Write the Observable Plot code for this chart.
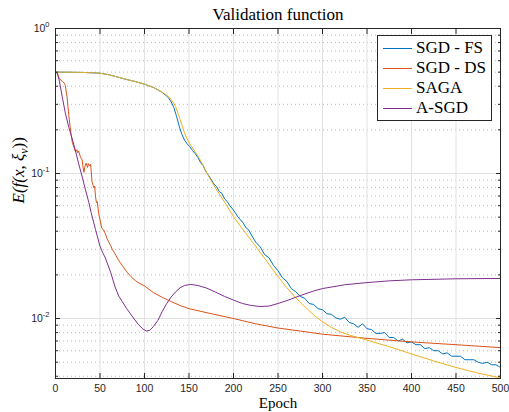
<!DOCTYPE html>
<html>
<head>
<meta charset="utf-8">
<script src="https://cdn.jsdelivr.net/npm/d3@7"></script>
<script src="https://cdn.jsdelivr.net/npm/@observablehq/plot@0.6"></script>
<style>
  html, body { margin: 0; padding: 0; background: #fff; }
  #wrap { position: relative; width: 509px; height: 412px; }
  #legend {
    position: absolute; left: 377px; top: 35px; width: 115px; height: 86px;
    box-sizing: border-box; border: 1px solid #262626; background: #fff;
    font-family: "Liberation Serif", serif; font-size: 17px; color: #000;
    padding-top: 2px;
  }
  .row { height: 20px; display: flex; align-items: center; }
  .sw { margin-left: 5px; width: 29px; height: 0; border-top: 1px solid; }
  .lb { margin-left: 4px; white-space: nowrap; }
</style>
</head>
<body>
<div id="wrap"><div id="legend"></div></div>
<script>
// ---- data ----
const seriesNames = ["SGD - FS", "SGD - DS", "SAGA", "A-SGD"];
const seriesColors = ["#0072BD", "#D95319", "#EDB120", "#7E2F8E"];

const fsEpoch = [0,10,20,30,40,50,60,70,80,90,100,110,115,120,124,127,130,133,136,139,142,145,148,151,154,157,160,163,166,169,172,175,
  178,181,184,187,190,193,196,199,202,205,208,211,214,217,220,225,230,235,240,245,250,255,260,265,270,275,280,285,290,295,300,305,310,315,320,325,330,335,340,345,350,
  355,360,365,370,375,380,385,390,395,400,405,410,415,420,425,430,435,440,445,450,455,460,465,470,475,480,485,490,495,500];
const fsValue = [0.500,0.500,0.499,0.498,0.495,0.492,0.480,0.462,0.445,0.430,0.413,0.392,0.378,0.362,0.346,0.332,0.312,0.285,0.248,0.212,0.186,0.170,0.160,0.153,0.144,0.137,0.129,0.119,0.113,0.103,0.097,0.091,
  0.0845,0.0812,0.0752,0.0728,0.0668,0.0641,0.0598,0.0569,0.0536,0.0502,0.0478,0.0455,0.0423,0.0409,0.0378,0.0336,0.0312,0.0276,0.0262,0.0232,0.0214,0.0191,0.0180,0.0161,0.0153,0.0142,0.0138,0.0127,0.0125,0.0117,0.0115,0.0108,0.0107,0.0101,0.0099,0.0102,0.0094,0.0092,0.0087,0.0092,0.0085,
  0.0084,0.0079,0.0079,0.0080,0.0074,0.0074,0.0070,0.0072,0.0068,0.0069,0.0066,0.0066,0.0062,0.0063,0.0060,0.0060,0.0057,0.0058,0.0055,0.0055,0.0055,0.0052,0.0052,0.0052,0.0050,0.0049,0.0050,0.0048,0.0048,0.0046];

const dsEpoch = [0,2,4,6,8,10,11,13,15,17,19,21,22.5,24,25,26,28,30,31,32,33,34.5,36,37,38.5,39.5,41,43,44,45,46,47,48.5,50,52,54,56,58,60,62,64,66,68,70,73,76,80,85,90,95,100,110,120,130,140,150,175,200,225,250,275,300,350,400,450,500];
const dsValue = [0.500,0.495,0.455,0.440,0.432,0.418,0.405,0.336,0.250,0.195,0.163,0.150,0.141,0.146,0.139,0.143,0.130,0.124,0.110,0.102,0.112,0.118,0.110,0.117,0.113,0.116,0.088,0.080,0.082,0.069,0.063,0.064,0.053,0.048,0.042,0.041,0.0385,0.0355,0.0335,0.0318,0.0298,0.0286,0.0272,0.0258,0.0242,0.0228,0.0210,0.0194,0.0182,0.0174,0.0168,0.0151,0.0140,0.0131,0.0123,0.0117,0.0108,0.0100,0.0092,0.0086,0.0082,0.0078,0.0073,0.0069,0.0066,0.0063];

const sagaEpoch = [0,10,20,30,40,50,60,70,80,90,100,110,115,120,125,130,135,140,145,150,155,160,165,170,175,180,190,200,210,220,230,240,250,260,270,280,290,300,310,320,330,340,350,360,375,400,425,450,475,500];
const sagaValue = [0.500,0.500,0.499,0.498,0.495,0.492,0.480,0.462,0.445,0.430,0.413,0.392,0.378,0.363,0.347,0.325,0.290,0.236,0.190,0.163,0.147,0.132,0.117,0.101,0.089,0.079,0.0635,0.0505,0.0415,0.0345,0.0286,0.0236,0.0195,0.0163,0.0139,0.0121,0.0106,0.0095,0.0087,0.0081,0.0077,0.0074,0.0071,0.0068,0.0064,0.0057,0.0051,0.0046,0.0042,0.0039];

const asgdEpoch = [0,2,4,7.5,11,15,18.7,22.5,26,30,33.7,37.5,40,45,50,53,56,62,67,71,75,80,86,93,98,102,106,110,115,120,125,130,135,140,145,152,160,170,180,190,200,210,220,230,240,250,260,275,290,300,325,350,375,400,450,500];
const asgdValue = [0.500,0.490,0.445,0.340,0.262,0.208,0.174,0.143,0.117,0.095,0.077,0.063,0.054,0.041,0.0315,0.0285,0.0262,0.0208,0.0165,0.0143,0.0131,0.0117,0.0104,0.0091,0.0085,0.0082,0.0083,0.0088,0.0097,0.0112,0.0127,0.0141,0.0153,0.0163,0.0169,0.0172,0.0169,0.0162,0.0152,0.0142,0.0134,0.0127,0.0123,0.0121,0.0122,0.0127,0.0133,0.0144,0.0155,0.0161,0.0171,0.0177,0.0182,0.0185,0.0188,0.0189];

const xTicks = [0,50,100,150,200,250,300,350,400,450,500];
const xTickLabels = ["0","50","100","150","200","250","300","350","400","450","500"];
const xGrid = [50,100,150,200,250,300,350,400,450];
const yMajor = [0.01, 0.1, 1];
const yTickLabels = ["10^-2", "10^-1", "10^0"];
const yGrid = [0.01, 0.1];
const yMinor = [0.004,0.005,0.006,0.007,0.008,0.009,0.02,0.03,0.04,0.05,0.06,0.07,0.08,0.09,0.2,0.3,0.4,0.5,0.6,0.7,0.8,0.9];
const yDomain = [0.00386, 1];
const xDomain = [0, 500];
const titleText = "Validation function";
const xLabelText = "Epoch";
const yLabelText = "E(f(x, ξ_v))";

// ---- build table ----
const series = [
  {name: seriesNames[0], epoch: fsEpoch, value: fsValue},
  {name: seriesNames[1], epoch: dsEpoch, value: dsValue},
  {name: seriesNames[2], epoch: sagaEpoch, value: sagaValue},
  {name: seriesNames[3], epoch: asgdEpoch, value: asgdValue}
];
const rows = series.flatMap(s => s.epoch.map((e, i) => ({name: s.name, epoch: e, value: s.value[i]})));

const serif = "Liberation Serif, serif";
const tickColor = "#262626";

const chart = Plot.plot({
  width: 509, height: 412,
  marginLeft: 55, marginRight: 9, marginTop: 28, marginBottom: 34,
  style: {fontFamily: "Liberation Sans, Arial, sans-serif", fontSize: "10.5px", color: tickColor, background: "#fff"},
  x: {domain: xDomain, label: null},
  y: {type: "log", domain: yDomain, label: null},
  color: {domain: seriesNames, range: seriesColors},
  marks: [
    Plot.ruleY(yMinor, {y: d => d, stroke: "#b9b9b9", strokeWidth: 1, strokeDasharray: "1,3"}),
    Plot.ruleX(xGrid, {x: d => d, stroke: "#e2e2e2", strokeWidth: 1}),
    Plot.ruleY(yGrid, {y: d => d, stroke: "#e2e2e2", strokeWidth: 1}),
    Plot.line(rows, {x: "epoch", y: "value", z: "name", stroke: "name", strokeWidth: 1, curve: "linear"}),
    Plot.frame({stroke: tickColor, strokeWidth: 1}),
    // inward ticks
    Plot.axisY(yMajor, {anchor: "left", tickSize: 5, dx: 5, fill: "none", label: null, stroke: tickColor}),
    Plot.axisY(yMajor, {anchor: "right", tickSize: 5, dx: -5, fill: "none", label: null, stroke: tickColor}),
    Plot.axisY(yMinor, {anchor: "left", tickSize: 3, dx: 3, fill: "none", label: null, stroke: tickColor}),
    Plot.axisY(yMinor, {anchor: "right", tickSize: 3, dx: -3, fill: "none", label: null, stroke: tickColor}),
    Plot.axisX(xTicks, {anchor: "bottom", tickSize: 5, dy: -5, fill: "none", label: null, stroke: tickColor}),
    Plot.axisX(xTicks, {anchor: "top", tickSize: 5, dy: 5, fill: "none", label: null, stroke: tickColor}),
    // tick labels
    Plot.text(xTicks, {x: d => d, frameAnchor: "bottom", lineAnchor: "middle", dy: 10, text: (d, i) => xTickLabels[i], fill: tickColor, fontSize: 10.5}),
    Plot.text(yMajor, {y: d => d, frameAnchor: "left", dx: -6, textAnchor: "end", text: (d, i) => yTickLabels[i], fill: tickColor, fontSize: 10.5}),
    // titles
    Plot.text([titleText], {frameAnchor: "top", lineAnchor: "middle", dy: -14, text: d => d, fontFamily: serif, fontSize: 17, fill: "#000"}),
    Plot.text([xLabelText], {frameAnchor: "bottom", lineAnchor: "middle", dy: 25, text: d => d, fontFamily: serif, fontSize: 15, fill: "#000"}),
    Plot.text([yLabelText], {frameAnchor: "left", lineAnchor: "middle", dx: -37, rotate: -90, text: d => d, fontFamily: serif, fontStyle: "italic", fontSize: 17, fill: "#000"})
  ]
});

// superscripts / subscript as real text
chart.querySelectorAll("text").forEach(t => {
  const s = t.textContent;
  if (s.includes("^")) {
    const [base, exp] = s.split("^");
    t.textContent = "";
    const a = document.createElementNS("http://www.w3.org/2000/svg", "tspan");
    a.textContent = base;
    const b = document.createElementNS("http://www.w3.org/2000/svg", "tspan");
    b.textContent = exp; b.setAttribute("dy", "-5"); b.setAttribute("font-size", "7.5");
    t.appendChild(a); t.appendChild(b);
  } else if (s.includes("_v")) {
    const [pre, post] = s.split("_v");
    t.textContent = "";
    const a = document.createElementNS("http://www.w3.org/2000/svg", "tspan");
    a.textContent = pre;
    const b = document.createElementNS("http://www.w3.org/2000/svg", "tspan");
    b.textContent = "v"; b.setAttribute("dy", "4"); b.setAttribute("font-size", "12");
    const c = document.createElementNS("http://www.w3.org/2000/svg", "tspan");
    c.textContent = post; c.setAttribute("dy", "-4"); c.setAttribute("font-style", "normal");
    t.appendChild(a); t.appendChild(b); t.appendChild(c);
  }
});

const wrap = document.getElementById("wrap");
wrap.insertBefore(chart, wrap.firstChild);

const legend = document.getElementById("legend");
seriesNames.forEach((n, i) => {
  const r = document.createElement("div"); r.className = "row";
  const sw = document.createElement("span"); sw.className = "sw"; sw.style.borderTopColor = seriesColors[i];
  const lb = document.createElement("span"); lb.className = "lb"; lb.textContent = n;
  r.appendChild(sw); r.appendChild(lb); legend.appendChild(r);
});
</script>
</body>
</html>
